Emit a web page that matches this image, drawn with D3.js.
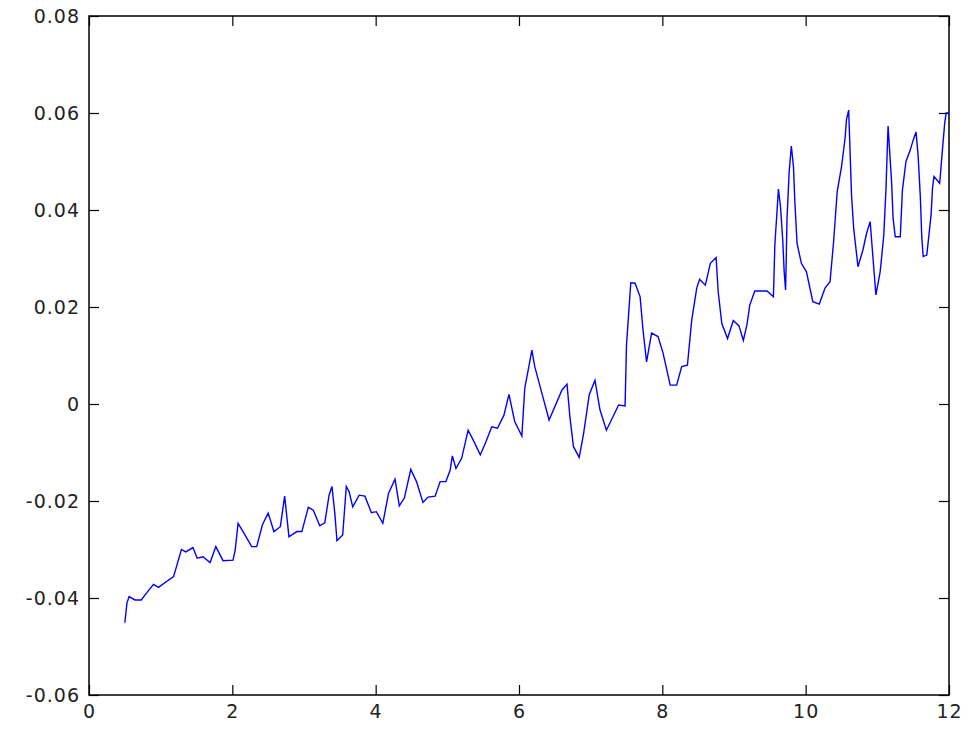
<!DOCTYPE html>
<html>
<head>
<meta charset="utf-8">
<script src="https://cdn.jsdelivr.net/npm/d3@7"></script>
<style>
  body { margin: 0; background: #fff; }
  svg { display: block; }
  .tick text { font-family: "DejaVu Sans", sans-serif; font-size: 19px; letter-spacing: 1px; fill: #222; }
</style>
</head>
<body>
<div id="chart"></div>
<script>
// x positions (data units) and values
let xs = [0.50,0.53,0.56,0.64,0.73,0.78,0.90,0.97,1.11,1.18,1.29,1.35,1.45,1.51,1.59,1.69,1.77,1.87,2.01,2.04,
  2.08,2.15,2.27,2.34,2.42,2.50,2.58,2.67,2.73,2.79,2.90,2.97,3.06,3.13,3.22,3.29,3.35,3.39,3.43,3.46,
  3.54,3.59,3.63,3.68,3.77,3.85,3.94,4.01,4.10,4.18,4.27,4.33,4.40,4.49,4.57,4.66,4.73,4.83,4.90,4.98,
  5.04,5.07,5.12,5.20,5.29,5.36,5.46,5.53,5.62,5.70,5.79,5.86,5.94,6.04,6.08,6.18,6.22,6.32,6.42,6.60,
  6.67,6.71,6.76,6.84,6.90,6.98,7.06,7.13,7.22,7.39,7.48,7.50,7.56,7.62,7.69,7.73,7.78,7.80,7.85,7.94,
  8.01,8.11,8.20,8.27,8.35,8.41,8.48,8.52,8.60,8.67,8.75,8.78,8.83,8.91,8.99,9.07,9.13,9.18,9.22,9.29,
  9.46,9.55,9.57,9.62,9.65,9.68,9.70,9.72,9.74,9.77,9.80,9.83,9.85,9.88,9.94,10.01,10.10,10.19,10.27,10.34,
  10.39,10.44,10.50,10.55,10.57,10.60,10.64,10.67,10.73,10.80,10.85,10.90,10.94,10.98,11.04,11.09,11.12,11.14,11.15,11.20,
  11.22,11.25,11.32,11.35,11.40,11.46,11.50,11.54,11.57,11.60,11.62,11.64,11.69,11.75,11.77,11.79,11.87,11.91,11.94,11.96,12.00];

let ys = [-0.0451,-0.0410,-0.0397,-0.0404,-0.0404,-0.0394,-0.0372,-0.0378,-0.0363,-0.0356,-0.0300,-0.0305,-0.0296,-0.0318,-0.0315,-0.0327,-0.0294,-0.0323,-0.0322,-0.0301,
  -0.0246,-0.0263,-0.0294,-0.0294,-0.0249,-0.0225,-0.0263,-0.0253,-0.0190,-0.0274,-0.0263,-0.0263,-0.0213,-0.0219,-0.0251,-0.0245,-0.0188,-0.0170,-0.0225,-0.0282,
  -0.0270,-0.0170,-0.0181,-0.0212,-0.0188,-0.0190,-0.0224,-0.0222,-0.0246,-0.0184,-0.0155,-0.0210,-0.0194,-0.0135,-0.0160,-0.0203,-0.0192,-0.0190,-0.0160,-0.0160,
  -0.0136,-0.0107,-0.0133,-0.0112,-0.0054,-0.0074,-0.0105,-0.0081,-0.0047,-0.0050,-0.0023,0.0020,-0.0036,-0.0066,0.0032,0.0111,0.0077,0.0022,-0.0033,0.0029,
  0.0041,-0.0026,-0.0088,-0.0110,-0.0062,0.0019,0.0049,-0.0012,-0.0054,-0.0002,-0.0004,0.0122,0.0250,0.0249,0.0221,0.0153,0.0087,0.0104,0.0146,0.0139,
  0.0105,0.0039,0.0039,0.0077,0.0080,0.0173,0.0239,0.0257,0.0245,0.0290,0.0302,0.0231,0.0166,0.0135,0.0172,0.0161,0.0131,0.0163,0.0204,0.0233,
  0.0233,0.0221,0.0328,0.0443,0.0405,0.0338,0.0273,0.0235,0.0383,0.0479,0.0532,0.0489,0.0414,0.0331,0.0290,0.0273,0.0211,0.0206,0.0239,0.0252,
  0.0335,0.0438,0.0489,0.0548,0.0587,0.0606,0.0431,0.0362,0.0283,0.0318,0.0352,0.0376,0.0300,0.0225,0.0273,0.0348,0.0441,0.0531,0.0573,0.0455,
  0.0383,0.0345,0.0345,0.0441,0.0500,0.0524,0.0544,0.0561,0.0510,0.0427,0.0345,0.0304,0.0307,0.0390,0.0445,0.0469,0.0455,0.0527,0.0579,0.0600,0.0600];

let xTicks = [0, 2, 4, 6, 8, 10, 12];
let yTicks = [-0.06, -0.04, -0.02, 0, 0.02, 0.04, 0.06, 0.08];

let width = 976, height = 729;
let margin = {left: 89, right: 949, top: 16, bottom: 695};

let svg = d3.select("#chart").append("svg")
    .attr("width", width)
    .attr("height", height);

let x = d3.scaleLinear().domain([0, 12]).range([margin.left, margin.right]);
let y = d3.scaleLinear().domain([-0.06, 0.08]).range([margin.bottom, margin.top]);

function yfmt(d){
  if (d == 0) return "0";
  return d3.format(".2f")(d).replace("−", "-");
}
function xfmt(d){
  return String(d);
}

// bottom axis, ticks pointing in
svg.append("g")
    .attr("transform", "translate(0," + margin.bottom + ")")
    .call(d3.axisBottom(x).tickValues(xTicks).tickSizeInner(-10).tickSizeOuter(0).tickPadding(10).tickFormat(xfmt))
    .call(g => g.select(".domain").remove());
svg.append("g")
    .attr("transform", "translate(0," + margin.top + ")")
    .call(d3.axisTop(x).tickValues(xTicks).tickSizeInner(-10).tickSizeOuter(0).tickFormat(""))
    .call(g => g.select(".domain").remove());
svg.append("g")
    .attr("transform", "translate(" + margin.left + ",0)")
    .call(d3.axisLeft(y).tickValues(yTicks).tickSizeInner(-10).tickSizeOuter(0).tickPadding(9).tickFormat(yfmt))
    .call(g => g.select(".domain").remove());
svg.append("g")
    .attr("transform", "translate(" + margin.right + ",0)")
    .call(d3.axisRight(y).tickValues(yTicks).tickSizeInner(-10).tickSizeOuter(0).tickFormat(""))
    .call(g => g.select(".domain").remove());

svg.selectAll(".tick line").attr("stroke", "#000").attr("stroke-width", 1.2);

// frame
svg.append("rect")
    .attr("x", margin.left)
    .attr("y", margin.top)
    .attr("width", margin.right - margin.left)
    .attr("height", margin.bottom - margin.top)
    .attr("fill", "none")
    .attr("stroke", "#000")
    .attr("stroke-width", 1.5);

let line = d3.line()
    .x(d => x(d[0]))
    .y(d => y(d[1]));

svg.append("path")
    .datum(d3.zip(xs, ys))
    .attr("d", line)
    .attr("fill", "none")
    .attr("stroke", "#0000ff")
    .attr("stroke-width", 1.4);
</script>
</body>
</html>
